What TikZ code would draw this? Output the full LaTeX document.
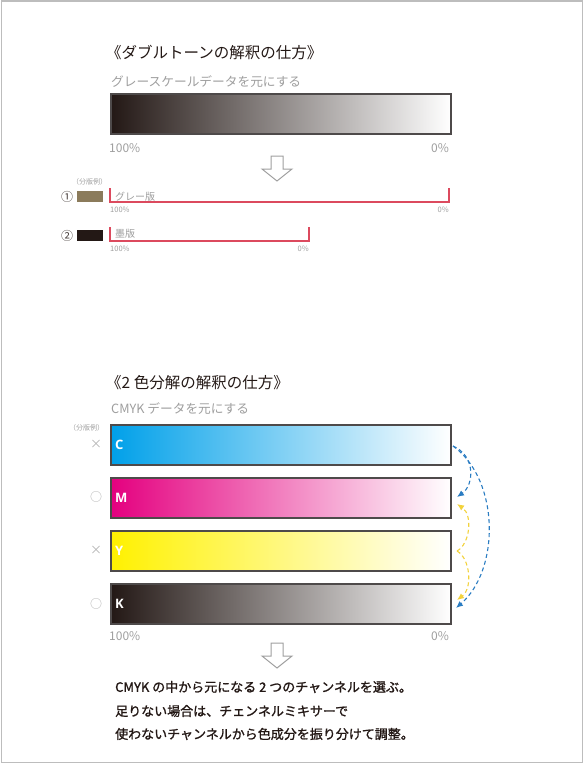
\documentclass[tikz,border=0pt]{standalone}
\usepackage{fontspec}
\setmainfont{Noto Sans CJK JP}
\newfontfamily\lblfont{Open Sans}
\newfontfamily\medfont{Noto Sans CJK JP}[FakeBold=1.3]
\usetikzlibrary{arrows.meta}
\definecolor{ink}{HTML}{231815}
\definecolor{midgray}{HTML}{8E8E8E}
\definecolor{softgray}{HTML}{9E9E9E}
\definecolor{frame}{HTML}{BDBDBD}
\definecolor{barline}{HTML}{4E4A4A}
\definecolor{redline}{HTML}{DC4A5E}
\definecolor{swatchA}{HTML}{8B7B5B}
\definecolor{cyanC}{HTML}{00A0E9}
\definecolor{magM}{HTML}{E4007F}
\definecolor{yelY}{HTML}{FFF100}
\definecolor{blueArr}{HTML}{2A7CC2}
\definecolor{yelArr}{HTML}{F2D23C}
\begin{document}
\begin{tikzpicture}[x=1pt,y=-1pt,
  bar/.style={draw=barline, line width=1.6pt, minimum width=340pt, minimum height=40pt, inner sep=0pt, anchor=north west},
  title/.style={anchor=west, inner sep=0pt, font=\fontsize{15.5}{18}\selectfont, text=ink},
  subtitle/.style={anchor=west, inner sep=0pt, font=\fontsize{12.7}{15}\selectfont, text=softgray},
  pct/.style={inner sep=0pt, font=\fontsize{12}{14}\selectfont, text=softgray},
  tinypct/.style={inner sep=0pt, font=\fontsize{7.5}{9}\selectfont, text=softgray},
  tinylab/.style={inner sep=0pt, font=\fontsize{7}{8}\selectfont, text=softgray},
  platelab/.style={anchor=west, inner sep=0pt, font=\fontsize{10}{12}\selectfont, text=softgray},
  chlab/.style={anchor=west, inner sep=0pt, font=\lblfont\bfseries\fontsize{13}{15}\selectfont, text=white},
  selmark/.style={inner sep=0pt, font=\fontsize{12}{14}\selectfont, text=gray!60},
  circnum/.style={inner sep=0pt, font=\fontsize{12}{14}\selectfont, text=ink!85},
  body/.style={anchor=west, inner sep=0pt, font=\medfont\fontsize{13}{15}\selectfont, text=ink},
  bracket/.style={draw=redline, line width=1.1pt},
  hollow/.style={draw=gray!75, line width=1pt, fill=white, line join=miter},
  dashblue/.style={draw=blueArr, line width=1.1pt, dash pattern=on 4pt off 3pt, -{Latex[length=7pt,width=6pt]}},
  dashyel/.style={draw=yelArr, line width=1.1pt, dash pattern=on 4pt off 3pt, -{Latex[length=7pt,width=6pt]}},
  downarr/.pic={\path[hollow] (-6,0) -- (6,0) -- (6,13) -- (15,13) -- (0,25) -- (-15,13) -- (-6,13) -- cycle;}
]
\useasboundingbox (0,0) rectangle (584,765);
\draw[frame, line width=1.2pt] (1.5,1) rectangle (582.5,762.5);

% ---------- Duotone section ----------
\node[title] (t1) at (106,53) {《ダブルトーンの解釈の仕方》};
\node[subtitle] (s1) at (111,82) {グレースケールデータを元にする};
\node[bar, left color=ink, middle color=midgray, right color=white] (gbar) at (110,93) {};
\node[pct, anchor=west] (g100) at (109,148) {100\%};
\node[pct, anchor=east] (g0) at (449,148) {0\%};
\pic at (277,156) {downarr};

\node[tinylab, anchor=west] (ex1) at (72,182) {（分版例）};
\node[circnum] (n1) at (67,197) {①};
\node[fill=swatchA, minimum width=26pt, minimum height=11pt, inner sep=0pt, anchor=north west] (sw1) at (77,191) {};
\draw[bracket] (110,188) |- (449,202) -- (449,188);
\node[platelab] (pl1) at (115,197) {グレー版};
\node[tinypct, anchor=west] (a100) at (110,210) {100\%};
\node[tinypct, anchor=east] (a0) at (449,210) {0\%};

\node[circnum] (n2) at (67,236) {②};
\node[fill=ink, minimum width=26pt, minimum height=11pt, inner sep=0pt, anchor=north west] (sw2) at (77,230) {};
\draw[bracket] (110,227) |- (309,241) -- (309,227);
\node[platelab] (pl2) at (115,234) {墨版};
\node[tinypct, anchor=west] (b100) at (110,249) {100\%};
\node[tinypct, anchor=east] (b0) at (309,249) {0\%};

% ---------- Two-colour section ----------
\node[title] (t2) at (106,383) {《2 色分解の解釈の仕方》};
\node[subtitle] (s2) at (111,409) {CMYK データを元にする};
\node[tinylab, anchor=west] (ex2) at (69,428) {（分版例）};

\node[bar, left color=cyanC, right color=white] (C) at (110,424) {};
\node[bar, left color=magM, right color=white] (M) at (110,477) {};
\node[bar, left color=yelY, right color=white] (Y) at (110,530) {};
\node[bar, left color=ink, middle color=midgray, right color=white] (K) at (110,583) {};
\node[chlab] (cl) at (115,445) {C};
\node[chlab] (ml) at (115,498) {M};
\node[chlab] (yl) at (115,551) {Y};
\node[chlab] (kl) at (115,604) {K};
\node[selmark] (xc) at (96,444) {×};
\node[selmark] (om) at (96,497) {○};
\node[selmark] (xy) at (96,550) {×};
\node[selmark] (ok) at (96,604) {○};

\node[pct, anchor=west] (c100) at (109,636) {100\%};
\node[pct, anchor=east] (c0) at (449,636) {0\%};

\coordinate (cout) at (453,446);
\coordinate (min1) at (457,497);
\coordinate (kin1) at (456,608);
\coordinate (yout) at (457,551);
\coordinate (min2) at (457,504);
\coordinate (kin2) at (457,600);
\draw[dashyel] (yout) .. controls (470,544) and (473,515) .. (min2);
\draw[dashyel] (yout) .. controls (470,558) and (473,588) .. (kin2);
\draw[dashblue] (cout) .. controls (476,456) and (474,485) .. (min1);
\draw[dashblue] (cout) .. controls (500,480) and (500,570) .. (kin1);

\pic at (277,643) {downarr};

\node[body] (l1) at (115,687) {CMYK の中から元になる 2 つのチャンネルを選ぶ。};
\node[body] (l2) at (115,711) {足りない場合は、チェンネルミキサーで};
\node[body] (l3) at (115,734) {使わないチャンネルから色成分を振り分けて調整。};
\end{tikzpicture}
\end{document}
